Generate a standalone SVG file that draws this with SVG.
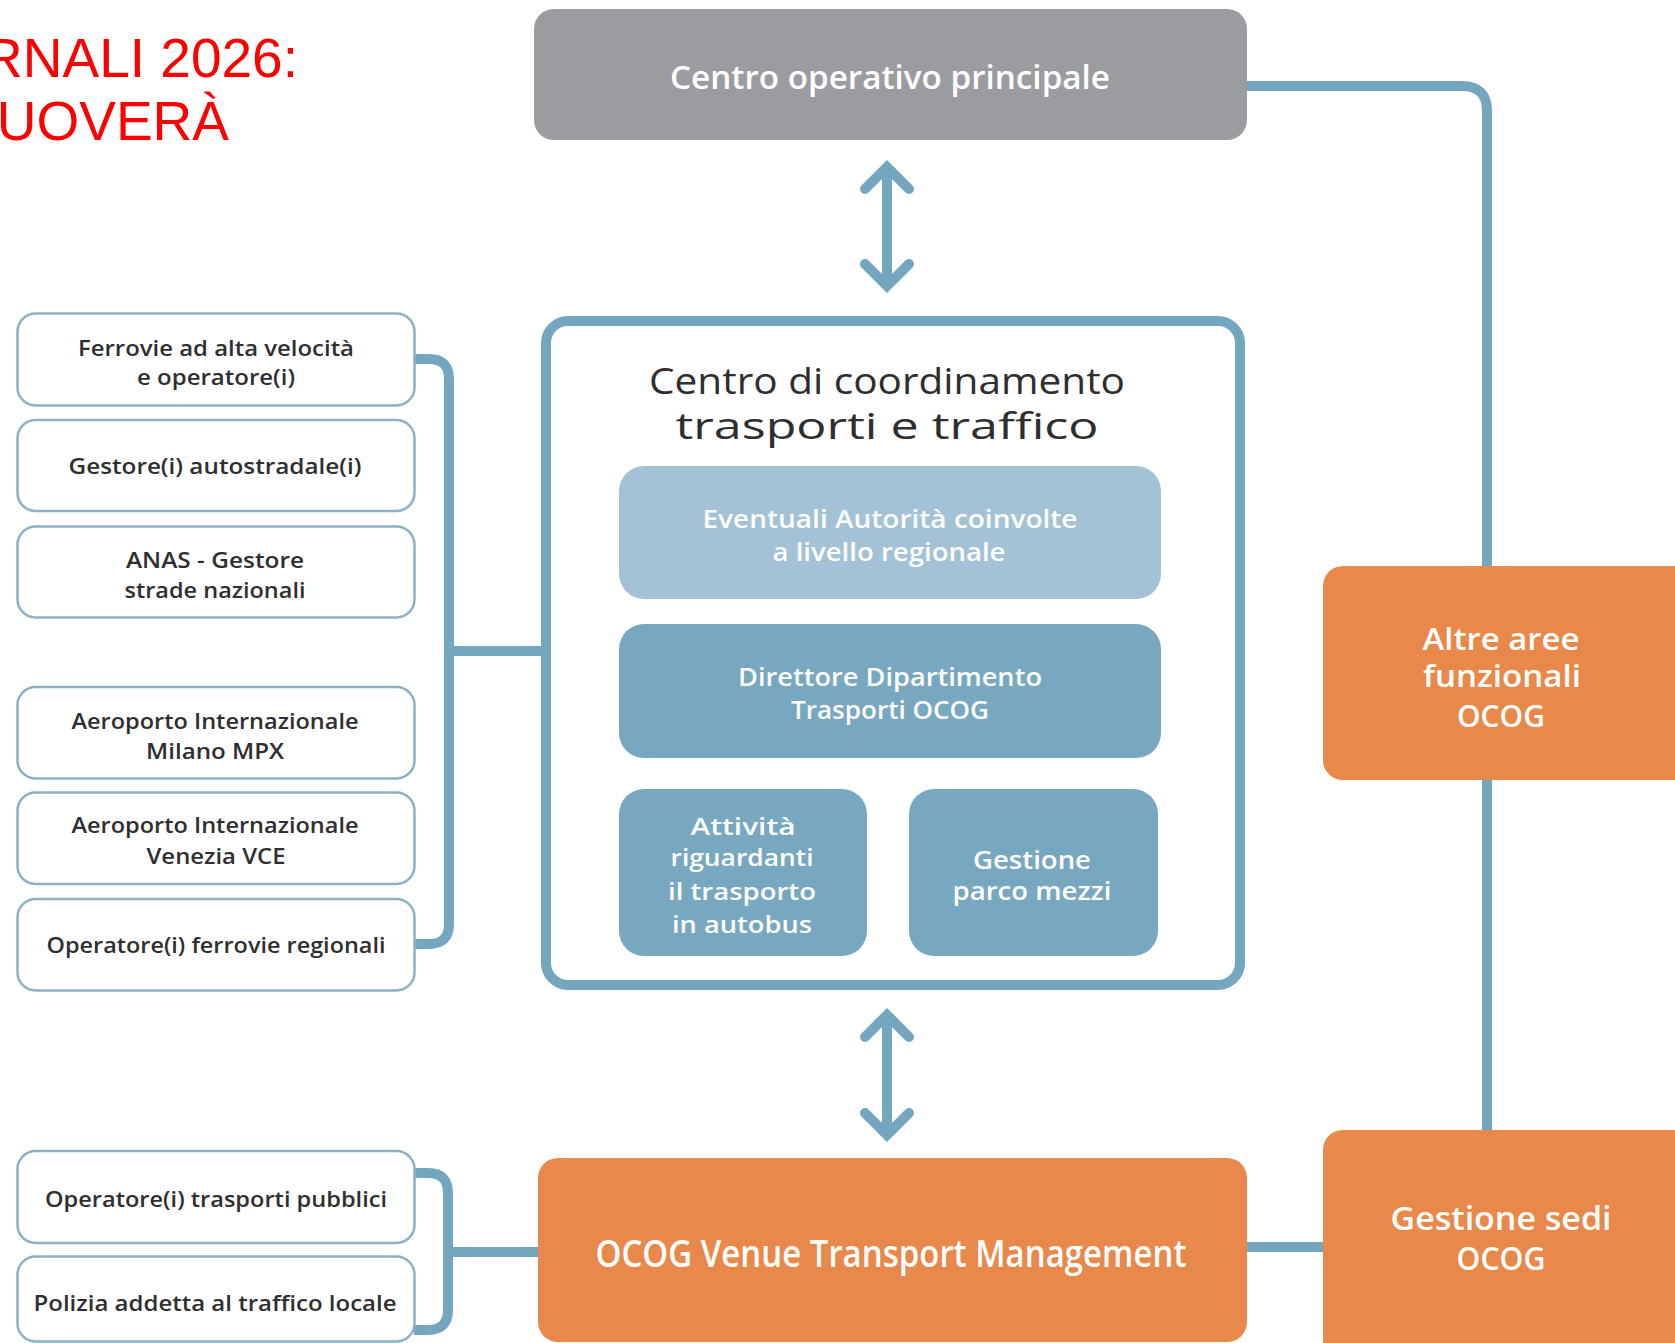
<svg xmlns="http://www.w3.org/2000/svg" width="1675" height="1343" viewBox="0 0 1675 1343">
<style>
.conn{fill:none;stroke:#74a6bf;stroke-width:10;stroke-linecap:butt;stroke-linejoin:round}
.arr{fill:none;stroke:#74a6bf;stroke-width:10;stroke-linecap:round;stroke-linejoin:miter}
.lbox{fill:#ffffff;stroke:#8db0c4;stroke-width:2.5}
.ltxt{font-family:"Open Sans","Noto Sans","DejaVu Sans",sans-serif;font-size:21px;font-weight:600;fill:#2f2f2f;text-anchor:middle}
.wtxt{font-family:"Open Sans","Noto Sans","DejaVu Sans",sans-serif;font-weight:600;fill:#ffffff;text-anchor:middle}
.orange{fill:#e8884a}
.mid{fill:#78a7c0}
</style>
<rect width="1675" height="1343" fill="#ffffff"/>
<g id="title" font-family="'Liberation Sans',Arial,sans-serif" font-size="55" fill="#ff0000" text-anchor="end">
<text x="298" y="77">RNALI 2026:</text>
<text x="229" y="140">UOVERÀ</text>
</g>
<g id="connectors">
<path class="conn" d="M1247,86 H1462 Q1487,86 1487,111 V566"/>
<path class="conn" d="M1487,780 V1130"/>
<path class="conn" d="M1247,1247 H1323"/>
<path class="conn" d="M414,359 H429 Q449,359 449,379 V924 Q449,944 429,944 H414"/>
<path class="conn" d="M449,651 H542"/>
<path class="conn" d="M414,1173 H428 Q448,1173 448,1193 V1310 Q448,1330 428,1330 H414"/>
<path class="conn" d="M448,1252 H538"/>
<g id="arrow-top">
<line class="arr" style="stroke-linecap:butt" x1="887" y1="167" x2="887" y2="286"/>
<polyline class="arr" points="865,189 887,167 909,189"/>
<polyline class="arr" points="865,264 887,286 909,264"/>
</g>
<g id="arrow-bottom">
<line class="arr" style="stroke-linecap:butt" x1="887" y1="1015" x2="887" y2="1135"/>
<polyline class="arr" points="865,1037 887,1015 909,1037"/>
<polyline class="arr" points="865,1113 887,1135 909,1113"/>
</g>
</g>
<g id="centro-operativo">
<rect x="534" y="9" width="713" height="131" rx="20" fill="#9b9c9f"/>
<text class="wtxt" x="890" y="89" font-size="32" font-weight="500" textLength="440" lengthAdjust="spacingAndGlyphs">Centro operativo principale</text>
</g>
<g id="centro-coordinamento">
<rect x="546" y="321" width="694" height="664" rx="22" fill="#ffffff" stroke="#74a6bf" stroke-width="10"/>
<g font-family="'Open Sans','Noto Sans','DejaVu Sans',sans-serif" font-size="37" fill="#2e2e2e" text-anchor="middle">
<text x="887" y="394" textLength="476" lengthAdjust="spacingAndGlyphs">Centro di coordinamento</text>
<text x="887" y="439" textLength="423" lengthAdjust="spacingAndGlyphs">trasporti e traffico</text>
</g>
</g>
<g id="eventuali-autorita">
<rect x="619" y="466" width="542" height="133" rx="25" fill="#a3c2d5"/>
<text class="wtxt" x="890" y="528" font-size="25" textLength="375" lengthAdjust="spacingAndGlyphs">Eventuali Autorità coinvolte</text>
<text class="wtxt" x="889" y="561" font-size="25" textLength="233" lengthAdjust="spacingAndGlyphs">a livello regionale</text>
</g>
<g id="direttore">
<rect class="mid" x="619" y="624" width="542" height="134" rx="25"/>
<text class="wtxt" x="890" y="686" font-size="25" textLength="304" lengthAdjust="spacingAndGlyphs">Direttore Dipartimento</text>
<text class="wtxt" x="890" y="719" font-size="25" textLength="198" lengthAdjust="spacingAndGlyphs">Trasporti OCOG</text>
</g>
<g id="attivita-autobus">
<rect class="mid" x="619" y="789" width="248" height="167" rx="25"/>
<text class="wtxt" x="743" y="835" font-size="23" textLength="105" lengthAdjust="spacingAndGlyphs">Attività</text>
<text class="wtxt" x="742" y="866" font-size="23" textLength="143" lengthAdjust="spacingAndGlyphs">riguardanti</text>
<text class="wtxt" x="742" y="900" font-size="23" textLength="148" lengthAdjust="spacingAndGlyphs">il trasporto</text>
<text class="wtxt" x="742" y="933" font-size="23" textLength="140" lengthAdjust="spacingAndGlyphs">in autobus</text>
</g>
<g id="gestione-parco">
<rect class="mid" x="909" y="789" width="249" height="167" rx="25"/>
<text class="wtxt" x="1032" y="869" font-size="25" textLength="118" lengthAdjust="spacingAndGlyphs">Gestione</text>
<text class="wtxt" x="1032" y="900" font-size="25" textLength="159" lengthAdjust="spacingAndGlyphs">parco mezzi</text>
</g>
<g id="venue-transport">
<rect class="orange" x="538" y="1158" width="709" height="184" rx="20"/>
<text class="wtxt" x="891" y="1267" font-size="38" font-weight="500" textLength="591" lengthAdjust="spacingAndGlyphs">OCOG Venue Transport Management</text>
</g>
<g id="altre-aree">
<rect class="orange" x="1323" y="566" width="372" height="214" rx="20"/>
<text class="wtxt" x="1501" y="650" font-size="31" textLength="157" lengthAdjust="spacingAndGlyphs">Altre aree</text>
<text class="wtxt" x="1502" y="687" font-size="31" textLength="158" lengthAdjust="spacingAndGlyphs">funzionali</text>
<text class="wtxt" x="1501" y="727" font-size="31" textLength="88" lengthAdjust="spacingAndGlyphs">OCOG</text>
</g>
<g id="gestione-sedi">
<rect class="orange" x="1323" y="1130" width="372" height="230" rx="20"/>
<text class="wtxt" x="1501" y="1230" font-size="33" textLength="221" lengthAdjust="spacingAndGlyphs">Gestione sedi</text>
<text class="wtxt" x="1501" y="1270" font-size="33" textLength="89" lengthAdjust="spacingAndGlyphs">OCOG</text>
</g>
<g id="ferrovie-alta-velocita">
<rect class="lbox" x="17.5" y="313.5" width="397" height="92" rx="18"/>
<text class="ltxt" x="216" y="356" textLength="276" lengthAdjust="spacingAndGlyphs">Ferrovie ad alta velocità</text>
<text class="ltxt" x="216" y="385" textLength="158" lengthAdjust="spacingAndGlyphs">e operatore(i)</text>
</g>
<g id="gestori-autostradali">
<rect class="lbox" x="17.5" y="420" width="397" height="91" rx="18"/>
<text class="ltxt" x="215" y="474" textLength="293" lengthAdjust="spacingAndGlyphs">Gestore(i) autostradale(i)</text>
</g>
<g id="anas">
<rect class="lbox" x="17.5" y="526.5" width="397" height="91" rx="18"/>
<text class="ltxt" x="215" y="568" textLength="178" lengthAdjust="spacingAndGlyphs">ANAS - Gestore</text>
<text class="ltxt" x="215" y="598" textLength="181" lengthAdjust="spacingAndGlyphs">strade nazionali</text>
</g>
<g id="aeroporto-milano">
<rect class="lbox" x="17.5" y="687" width="397" height="91.5" rx="18"/>
<text class="ltxt" x="215" y="729" textLength="287" lengthAdjust="spacingAndGlyphs">Aeroporto Internazionale</text>
<text class="ltxt" x="215" y="759" textLength="138" lengthAdjust="spacingAndGlyphs">Milano MPX</text>
</g>
<g id="aeroporto-venezia">
<rect class="lbox" x="17.5" y="792.5" width="397" height="91.5" rx="18"/>
<text class="ltxt" x="215" y="833" textLength="287" lengthAdjust="spacingAndGlyphs">Aeroporto Internazionale</text>
<text class="ltxt" x="216" y="864" textLength="139" lengthAdjust="spacingAndGlyphs">Venezia VCE</text>
</g>
<g id="ferrovie-regionali">
<rect class="lbox" x="17.5" y="899" width="397" height="91.5" rx="18"/>
<text class="ltxt" x="216" y="953" textLength="339" lengthAdjust="spacingAndGlyphs">Operatore(i) ferrovie regionali</text>
</g>
<g id="trasporti-pubblici">
<rect class="lbox" x="17.5" y="1151" width="397" height="92" rx="18"/>
<text class="ltxt" x="216" y="1207" textLength="342" lengthAdjust="spacingAndGlyphs">Operatore(i) trasporti pubblici</text>
</g>
<g id="polizia-locale">
<rect class="lbox" x="17.5" y="1256.5" width="397" height="85" rx="18"/>
<text class="ltxt" x="215" y="1311" textLength="363" lengthAdjust="spacingAndGlyphs">Polizia addetta al traffico locale</text>
</g>
</svg>
